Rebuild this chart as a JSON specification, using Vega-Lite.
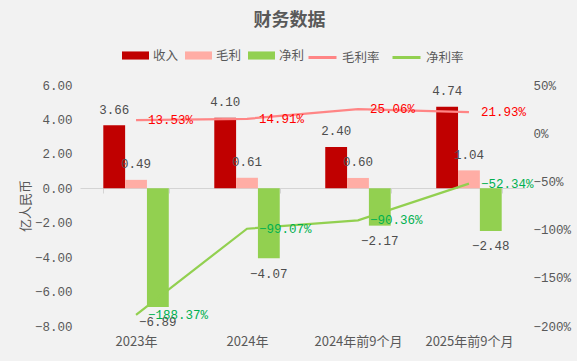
{
  "$schema": "https://vega.github.io/schema/vega-lite/v6.json",
  "width": 445,
  "height": 241,
  "autosize": {"type": "none"},
  "padding": {"left": 80, "top": 85, "right": 52, "bottom": 35},
  "background": "#f2f2f2",
  "title": {
    "text": "财务数据",
    "anchor": "middle",
    "dx": -13,
    "fontSize": 18,
    "fontWeight": "bold",
    "color": "#595959",
    "font": "Noto Sans CJK SC",
    "offset": 12
  },
  "config": {
    "view": {"stroke": null},
    "font": "Noto Sans CJK SC"
  },
  "datasets": {
    "bars": [
      {"cat": "2023年", "series": "收入", "value": 3.66},
      {"cat": "2023年", "series": "毛利", "value": 0.49},
      {"cat": "2023年", "series": "净利", "value": -6.89},
      {"cat": "2024年", "series": "收入", "value": 4.10},
      {"cat": "2024年", "series": "毛利", "value": 0.61},
      {"cat": "2024年", "series": "净利", "value": -4.07},
      {"cat": "2024年前9个月", "series": "收入", "value": 2.40},
      {"cat": "2024年前9个月", "series": "毛利", "value": 0.60},
      {"cat": "2024年前9个月", "series": "净利", "value": -2.17},
      {"cat": "2025年前9个月", "series": "收入", "value": 4.74},
      {"cat": "2025年前9个月", "series": "毛利", "value": 1.04},
      {"cat": "2025年前9个月", "series": "净利", "value": -2.48}
    ],
    "rates": [
      {"cat": "2023年", "series": "毛利率", "rate": 0.1353},
      {"cat": "2024年", "series": "毛利率", "rate": 0.1491},
      {"cat": "2024年前9个月", "series": "毛利率", "rate": 0.2506},
      {"cat": "2025年前9个月", "series": "毛利率", "rate": 0.2193},
      {"cat": "2023年", "series": "净利率", "rate": -1.8837},
      {"cat": "2024年", "series": "净利率", "rate": -0.9907},
      {"cat": "2024年前9个月", "series": "净利率", "rate": -0.9036},
      {"cat": "2025年前9个月", "series": "净利率", "rate": -0.5234}
    ]
  },
  "layer": [
    {
      "data": {"name": "bars"},
      "encoding": {
        "x": {
          "field": "cat",
          "type": "nominal",
          "sort": ["2023年", "2024年", "2024年前9个月", "2025年前9个月"],
          "scale": {"paddingInner": 0.41, "paddingOuter": 0.21},
          "axis": {
            "title": null,
            "orient": "bottom",
            "offset": -138,
            "domain": true,
            "domainColor": "#d4d4d4",
            "domainWidth": 1,
            "ticks": true,
            "tickColor": "#d4d4d4",
            "tickSize": 5,
            "tickBand": "extent",
            "labelPadding": 142,
            "labelAngle": 0,
            "labelFont": "Noto Sans CJK SC",
            "labelFontSize": 13,
            "labelColor": "#595959",
            "grid": false
          }
        },
        "xOffset": {"field": "series", "type": "nominal", "sort": ["收入", "毛利", "净利"]},
        "y": {
          "field": "value",
          "type": "quantitative",
          "scale": {"domain": [-8, 6], "nice": false, "zero": false},
          "axis": {
            "title": "亿人民币",
            "values": [-8, -6, -4, -2, 0, 2, 4, 6],
            "format": ".2f",
            "domain": false,
            "ticks": false,
            "grid": false,
            "labelFont": "Liberation Mono",
            "labelFontSize": 12.5,
            "labelColor": "#595959",
            "labelPadding": 8,
            "titleFont": "Noto Sans CJK SC",
            "titleFontWeight": "normal",
            "titleFontSize": 13,
            "titleColor": "#595959",
            "titlePadding": 2
          }
        }
      },
      "layer": [
        {
          "mark": {"type": "bar"},
          "encoding": {
            "fill": {
              "field": "series",
              "type": "nominal",
              "sort": ["收入", "毛利", "净利"],
              "scale": {"domain": ["收入", "毛利", "净利"], "range": ["#C00000", "#FFADA5", "#92D050"]},
              "legend": {
                "title": null,
                "orient": "none",
                "direction": "horizontal",
                "legendX": 42,
                "legendY": -43,
                "padding": 0,
                "symbolType": "M-1,-0.3H1V0.3H-1Z",
                "symbolSize": 729,
                "symbolStrokeWidth": 0,
                "labelOffset": 4,
                "columnPadding": 6,
                "labelFont": "Noto Sans CJK SC",
                "labelFontSize": 12.5,
                "labelColor": "#595959"
              }
            }
          }
        },
        {
          "transform": [{"filter": "datum.value >= 0"}],
          "mark": {"type": "text", "baseline": "alphabetic", "dy": -11.5, "font": "Liberation Mono", "fontSize": 12.5, "fill": "#4d4d4d"},
          "encoding": {"text": {"field": "value", "type": "quantitative", "format": ".2f"}}
        },
        {
          "transform": [{"filter": "datum.value < 0"}],
          "mark": {"type": "text", "baseline": "alphabetic", "dy": 19.5, "font": "Liberation Mono", "fontSize": 12.5, "fill": "#4d4d4d"},
          "encoding": {"text": {"field": "value", "type": "quantitative", "format": ".2f"}}
        }
      ]
    },
    {
      "data": {"name": "rates"},
      "encoding": {
        "x": {
          "field": "cat",
          "type": "nominal",
          "sort": ["2023年", "2024年", "2024年前9个月", "2025年前9个月"]
        },
        "y": {
          "field": "rate",
          "type": "quantitative",
          "scale": {"domain": [-2, 0.5], "nice": false, "zero": false},
          "axis": {
            "title": null,
            "orient": "right",
            "values": [-2, -1.5, -1, -0.5, 0, 0.5],
            "format": ".0%",
            "domain": false,
            "ticks": false,
            "grid": false,
            "labelFont": "Liberation Mono",
            "labelFontSize": 12.5,
            "labelColor": "#595959",
            "labelPadding": 8
          }
        }
      },
      "layer": [
        {
          "mark": {"type": "line", "strokeWidth": 2.2},
          "encoding": {
            "stroke": {
              "field": "series",
              "type": "nominal",
              "scale": {"domain": ["毛利率", "净利率"], "range": ["#FF8585", "#92D050"]},
              "legend": {
                "title": null,
                "orient": "none",
                "direction": "horizontal",
                "legendX": 227,
                "legendY": -43,
                "padding": 0,
                "symbolType": "stroke",
                "symbolSize": 784,
                "symbolStrokeWidth": 3,
                "labelOffset": 4,
                "columnPadding": 6,
                "labelFont": "Noto Sans CJK SC",
                "labelFontSize": 12.5,
                "labelColor": "#595959"
              }
            }
          }
        },
        {
          "transform": [{"filter": "datum.series === '毛利率'"}],
          "mark": {"type": "text", "align": "left", "baseline": "middle", "dx": 12, "font": "Liberation Mono", "fontSize": 12.5, "fill": "#FF0000"},
          "encoding": {"text": {"field": "rate", "type": "quantitative", "format": ".2%"}}
        },
        {
          "transform": [{"filter": "datum.series === '净利率'"}],
          "mark": {"type": "text", "align": "left", "baseline": "middle", "dx": 12, "font": "Liberation Mono", "fontSize": 12.5, "fill": "#00B050"},
          "encoding": {"text": {"field": "rate", "type": "quantitative", "format": ".2%"}}
        }
      ]
    }
  ],
  "resolve": {"scale": {"y": "independent"}}
}
